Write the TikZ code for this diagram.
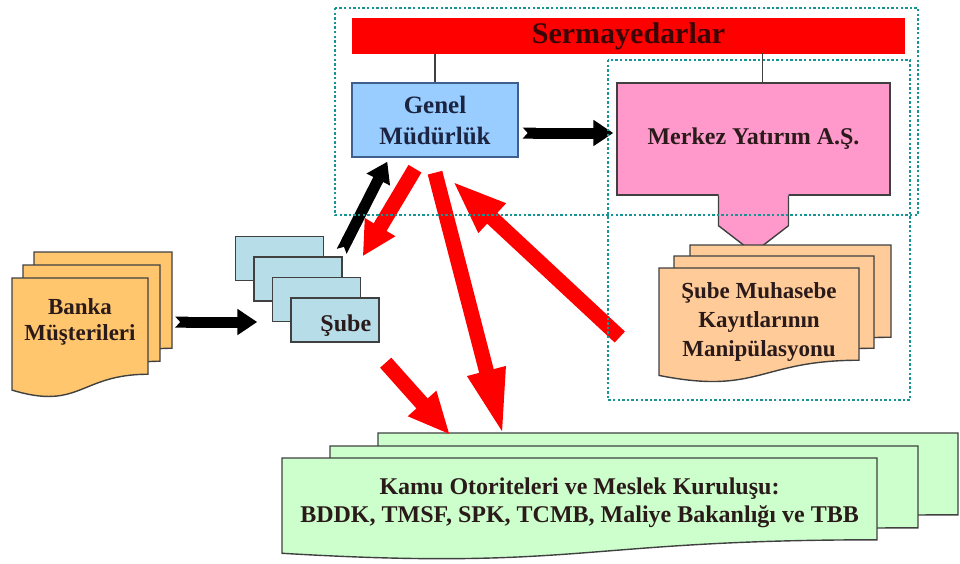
\documentclass[tikz,border=0pt]{standalone}
\usepackage{fontspec}
\setmainfont{Liberation Serif}
\usetikzlibrary{arrows.meta,calc}
\definecolor{sermred}{HTML}{FF0000}
\definecolor{bartext}{HTML}{3A0505}
\definecolor{gmblue}{HTML}{99CCFF}
\definecolor{gmborder}{HTML}{3F5F8F}
\definecolor{gmtext}{HTML}{1B2440}
\definecolor{myapink}{HTML}{FF99CC}
\definecolor{smkpeach}{HTML}{FFCC99}
\definecolor{bmorange}{HTML}{FFC66E}
\definecolor{subeblue}{HTML}{B7DDE8}
\definecolor{kamugreen}{HTML}{CCFFCC}
\definecolor{dotteal}{HTML}{179494}
\definecolor{txtdark}{HTML}{2A1A1A}
\newcommand{\drawdoc}[5]{%
  \filldraw[fill=#5,draw=black!75,line width=1.4pt] (#1,#2) -- (#3,#2) -- (#3,{#2+0.802*(#4-#2)})
    .. controls ({(#1+#3)/2},{#2+0.802*(#4-#2)}) and ({(#1+#3)/2},{#2+1.107*(#4-#2)}) .. (#1,{#2+0.934*(#4-#2)}) -- cycle;}
\begin{document}
\begin{tikzpicture}[x=1pt,y=-1pt]
	\tikzstyle{lbl}=[font=\bfseries\fontsize{24}{28}\selectfont, text=txtdark, align=center]
	\tikzstyle{shapeline}=[draw=black!75, line width=1.4pt]
	\tikzstyle{barbox}=[fill=sermred, minimum width=553, minimum height=36, font=\bfseries\fontsize{30}{30}\selectfont, text=bartext]
	\tikzstyle{gmbox}=[lbl, shapeline, draw=gmborder, fill=gmblue, minimum width=166, minimum height=74, text=gmtext, font=\bfseries\fontsize{25}{31}\selectfont]
	\tikzstyle{myabox}=[lbl, shapeline, fill=myapink, minimum width=273, minimum height=112]
	\tikzstyle{subebox}=[shapeline, fill=subeblue, minimum width=88, minimum height=44]
	\tikzstyle{dotbox}=[draw=dotteal, line width=2.8pt, dash pattern=on 2.4pt off 2.2pt]
	\tikzstyle{blackarrow}=[draw=black, line width=11pt, {Triangle Cap[reversed,length=5pt]}-{Triangle[length=20pt,width=25pt]}]
	\tikzstyle{redarrow}=[draw=sermred, line width=15pt, -{Triangle[length=42pt,width=35pt]}]
	\useasboundingbox (0,0) rectangle (960,563);

	\node[barbox] (bar) at (628.5,36) {Sermayedarlar};
	\node[gmbox] (gm) at (435,120) {Genel\\Müdürlük};
	\node[myabox] (mya) at (753.5,139) {Merkez Yatırım A.Ş.};
	\fill[myapink] ($(mya.south)+(-35,-1.5)$) -- ++(70,0) -- ++(0,31.5) -- ++(-35,27) -- ++(-35,-27) -- cycle;
	\draw[shapeline] ($(mya.south)+(-35,0)$) -- ++(0,30) -- ++(35,27) -- ++(35,-27) -- ++(0,-30);
	\draw[shapeline] (bar.south -| gm.north) -- (gm.north);
	\draw[shapeline] ($(mya.north)+(9,0)$) -- ++(0,-29);

	\drawdoc{690}{245}{891}{360}{smkpeach}
	\drawdoc{674}{256}{874}{371}{smkpeach}
	\drawdoc{659}{268}{859}{383}{smkpeach}
	\node[lbl, font=\bfseries\fontsize{23}{29}\selectfont, minimum width=200, minimum height=92] (smk) at (759,322) {Şube Muhasebe\\Kayıtlarının\\Manipülasyonu};

	\drawdoc{34}{252}{172}{372}{bmorange}
	\drawdoc{23}{265}{160}{385}{bmorange}
	\drawdoc{12}{278}{148}{398}{bmorange}
	\node[lbl, font=\bfseries\fontsize{23}{26}\selectfont, minimum width=136, minimum height=84] (bm) at (80,322) {Banka\\Müşterileri};

	\foreach \i in {1,...,4}
		\node[subebox] (sb\i) at ({261+18.5*\i},{238+20.5*\i}) {};
	\node[lbl, anchor=east] (sblbl) at ($(sb4.east)+(-5,6)$) {Şube};

	\drawdoc{378}{433}{958}{535}{kamugreen}
	\drawdoc{330}{446}{918}{548}{kamugreen}
	\drawdoc{282}{458}{877}{560}{kamugreen}
	\node[lbl, minimum width=595, minimum height=90] (kamu) at (579.5,503) {Kamu Otoriteleri ve Meslek Kuruluşu:\\BDDK, TMSF, SPK, TCMB, Maliye Bakanlığı ve TBB};

	\draw[blackarrow] ($(bm.east)+(27,0)$) -- ($(bm.east -| sb2.west)+(4,0)$);
	\draw[blackarrow] ($(gm.east)+(4,13)$) -- ($(gm.east -| mya.west)+(-3,13)$);
	\draw[blackarrow] ($(sb2.north east)+(-1,-5)$) -- ($(gm.south west)+(36,4)$);

	\draw[redarrow, -{Triangle[length=34pt,width=33pt]}] ($(gm.south)+(-20,11)$) -- ($(sb2.north east)+(20,0)$);
	\draw[redarrow, -{Triangle[length=68pt,width=35pt]}] ($(gm.south)+(0,15)$) -- ($(kamu.north)+(-76,-21)$);
	\draw[redarrow, -{Triangle[length=55pt,width=36pt]}] ($(smk.west)+(-39,15)$) -- ($(gm.south)+(17,23)$);
	\draw[redarrow] ($(sb4.south east)+(6,20)$) -- ($(kamu.north)+(-129.5,-23)$);

	\draw[dotbox] (335,8) rectangle (918,215);
	\draw[dotbox] (608,60) rectangle (910,400);
\end{tikzpicture}
\end{document}
